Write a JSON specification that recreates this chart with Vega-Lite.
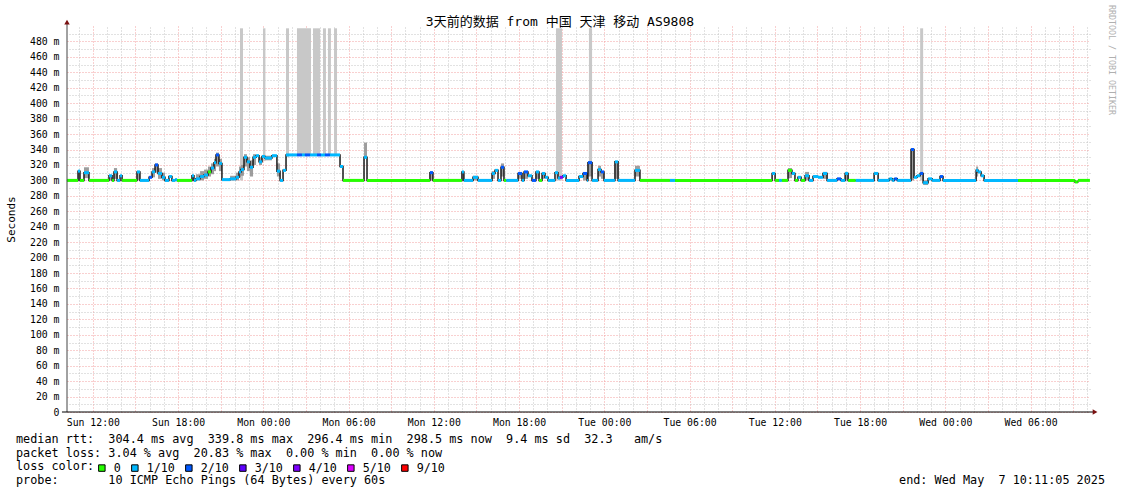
{
  "$schema": "https://vega.github.io/schema/vega-lite/v6.json",
  "width": 1023,
  "height": 386,
  "autosize": "none",
  "padding": {"left": 67, "top": 26, "right": 31, "bottom": 82},
  "background": "white",
  "config": {"view": {"stroke": null}, "font": "DejaVu Sans Mono"},
  "datasets": {
    "med": [
      {"t":10.18,"t2":10.96,"med":300,"loss":"0"},
      {"t":10.96,"t2":11.10,"med":312,"loss":"1/10","lo":300,"hi":312},
      {"t":11.10,"t2":11.38,"med":300,"loss":"0"},
      {"t":11.38,"t2":11.73,"med":310,"loss":"1/10","lo":303,"hi":317},
      {"t":11.73,"t2":13.14,"med":300,"loss":"0"},
      {"t":13.14,"t2":13.36,"med":306,"loss":"1/10","lo":300,"hi":307},
      {"t":13.36,"t2":13.49,"med":300,"loss":"0"},
      {"t":13.49,"t2":13.71,"med":311,"loss":"1/10","lo":302,"hi":316},
      {"t":13.71,"t2":13.92,"med":300,"loss":"1/10"},
      {"t":13.92,"t2":14.06,"med":306,"loss":"1/10"},
      {"t":14.06,"t2":15.11,"med":300,"loss":"0"},
      {"t":15.11,"t2":15.32,"med":311,"loss":"1/10","lo":300,"hi":311},
      {"t":15.32,"t2":15.96,"med":300,"loss":"1/10"},
      {"t":15.96,"t2":16.17,"med":304,"loss":"2/10"},
      {"t":16.17,"t2":16.38,"med":311,"loss":"1/10","lo":304,"hi":316},
      {"t":16.38,"t2":16.59,"med":320,"loss":"2/10","lo":310,"hi":322},
      {"t":16.59,"t2":16.87,"med":309,"loss":"1/10","lo":302,"hi":316},
      {"t":16.87,"t2":17.08,"med":304,"loss":"1/10","lo":300,"hi":310},
      {"t":17.08,"t2":17.36,"med":300,"loss":"1/10"},
      {"t":17.36,"t2":17.57,"med":305,"loss":"1/10"},
      {"t":17.57,"t2":17.79,"med":300,"loss":"1/10"},
      {"t":17.79,"t2":17.93,"med":301,"loss":"1/10"},
      {"t":17.93,"t2":18.98,"med":300,"loss":"0"},
      {"t":18.98,"t2":19.12,"med":306,"loss":"1/10","lo":300,"hi":307},
      {"t":19.12,"t2":19.26,"med":300,"loss":"1/10"},
      {"t":19.26,"t2":19.55,"med":302,"loss":"1/10","lo":300,"hi":308},
      {"t":19.55,"t2":19.83,"med":305,"loss":"1/10","lo":300,"hi":312},
      {"t":19.83,"t2":20.11,"med":307,"loss":"1/10","lo":302,"hi":314},
      {"t":20.11,"t2":20.32,"med":311,"loss":"0","lo":305,"hi":318},
      {"t":20.32,"t2":20.53,"med":316,"loss":"1/10","lo":308,"hi":322},
      {"t":20.53,"t2":20.67,"med":323,"loss":"1/10","lo":312,"hi":328},
      {"t":20.67,"t2":20.88,"med":333,"loss":"2/10","lo":318,"hi":336},
      {"t":20.88,"t2":21.09,"med":322,"loss":"1/10","lo":312,"hi":328},
      {"t":21.09,"t2":21.66,"med":301,"loss":"1/10"},
      {"t":21.66,"t2":22.08,"med":302,"loss":"1/10","lo":300,"hi":306},
      {"t":22.08,"t2":22.29,"med":304,"loss":"1/10","lo":300,"hi":310},
      {"t":22.29,"t2":22.43,"med":311,"loss":"1/10","lo":304,"hi":318},
      {"t":22.43,"t2":22.64,"med":314,"loss":"1/10","lo":306,"hi":320},
      {"t":22.64,"t2":22.85,"med":330,"loss":"1/10","lo":318,"hi":334},
      {"t":22.85,"t2":23.06,"med":324,"loss":"1/10","lo":312,"hi":330},
      {"t":23.06,"t2":23.28,"med":317,"loss":"1/10","lo":305,"hi":326},
      {"t":23.28,"t2":23.49,"med":330,"loss":"1/10","lo":320,"hi":334},
      {"t":23.49,"t2":23.70,"med":332,"loss":"1/10"},
      {"t":23.70,"t2":23.91,"med":324,"loss":"1/10","lo":320,"hi":330},
      {"t":23.91,"t2":24.12,"med":331,"loss":"1/10"},
      {"t":24.12,"t2":24.61,"med":329,"loss":"1/10","lo":326,"hi":332},
      {"t":24.61,"t2":24.96,"med":332,"loss":"1/10"},
      {"t":24.96,"t2":25.18,"med":312,"loss":"1/10","lo":305,"hi":322},
      {"t":25.18,"t2":25.39,"med":300,"loss":"1/10"},
      {"t":25.39,"t2":25.60,"med":313,"loss":"1/10"},
      {"t":25.60,"t2":26.37,"med":333,"loss":"1/10"},
      {"t":26.37,"t2":26.72,"med":333,"loss":"2/10"},
      {"t":26.72,"t2":26.93,"med":333,"loss":"1/10"},
      {"t":26.93,"t2":27.29,"med":333,"loss":"2/10"},
      {"t":27.29,"t2":27.78,"med":333,"loss":"1/10"},
      {"t":27.78,"t2":28.06,"med":333,"loss":"2/10"},
      {"t":28.06,"t2":28.34,"med":333,"loss":"1/10"},
      {"t":28.34,"t2":28.69,"med":333,"loss":"2/10"},
      {"t":28.69,"t2":29.40,"med":333,"loss":"1/10"},
      {"t":29.40,"t2":29.61,"med":318,"loss":"1/10"},
      {"t":29.61,"t2":31.09,"med":300,"loss":"0"},
      {"t":31.09,"t2":31.30,"med":330,"loss":"1/10","lo":328,"hi":349},
      {"t":31.30,"t2":35.73,"med":300,"loss":"0"},
      {"t":35.73,"t2":35.94,"med":310,"loss":"2/10","lo":300,"hi":312},
      {"t":35.94,"t2":37.98,"med":300,"loss":"0"},
      {"t":37.98,"t2":38.12,"med":311,"loss":"1/10","lo":300,"hi":311},
      {"t":38.12,"t2":38.76,"med":300,"loss":"1/10"},
      {"t":38.76,"t2":39.11,"med":304,"loss":"1/10","lo":300,"hi":306},
      {"t":39.11,"t2":40.10,"med":300,"loss":"1/10"},
      {"t":40.10,"t2":40.31,"med":309,"loss":"1/10","lo":302,"hi":312},
      {"t":40.31,"t2":40.52,"med":313,"loss":"1/10"},
      {"t":40.52,"t2":40.73,"med":300,"loss":"1/10"},
      {"t":40.73,"t2":40.94,"med":317,"loss":"2/10","lo":305,"hi":322},
      {"t":40.94,"t2":41.10,"med":300,"loss":"0"},
      {"t":41.10,"t2":41.93,"med":300,"loss":"1/10"},
      {"t":41.93,"t2":42.21,"med":309,"loss":"2/10","lo":302,"hi":309},
      {"t":42.21,"t2":42.35,"med":300,"loss":"1/10"},
      {"t":42.35,"t2":42.63,"med":311,"loss":"2/10","lo":302,"hi":311},
      {"t":42.63,"t2":42.91,"med":306,"loss":"1/10"},
      {"t":42.91,"t2":43.19,"med":300,"loss":"2/10"},
      {"t":43.19,"t2":43.41,"med":311,"loss":"1/10","lo":302,"hi":311},
      {"t":43.41,"t2":43.62,"med":300,"loss":"0"},
      {"t":43.62,"t2":43.83,"med":309,"loss":"1/10","lo":302,"hi":309},
      {"t":43.83,"t2":44.04,"med":304,"loss":"1/10"},
      {"t":44.04,"t2":44.53,"med":300,"loss":"1/10"},
      {"t":44.53,"t2":44.74,"med":310,"loss":"1/10"},
      {"t":44.74,"t2":44.88,"med":303,"loss":"1/10"},
      {"t":44.88,"t2":45.09,"med":304,"loss":"4/10"},
      {"t":45.09,"t2":45.31,"med":306,"loss":"1/10"},
      {"t":45.31,"t2":46.22,"med":300,"loss":"1/10"},
      {"t":46.22,"t2":46.50,"med":305,"loss":"1/10"},
      {"t":46.50,"t2":46.79,"med":309,"loss":"2/10","lo":300,"hi":309},
      {"t":46.79,"t2":46.85,"med":300,"loss":"1/10"},
      {"t":46.85,"t2":47.14,"med":323,"loss":"2/10","lo":305,"hi":325},
      {"t":47.14,"t2":47.56,"med":300,"loss":"1/10"},
      {"t":47.56,"t2":47.77,"med":314,"loss":"1/10","lo":305,"hi":319},
      {"t":47.77,"t2":47.98,"med":311,"loss":"2/10","lo":302,"hi":311},
      {"t":47.98,"t2":48.75,"med":300,"loss":"1/10"},
      {"t":48.75,"t2":48.97,"med":324,"loss":"1/10","lo":302,"hi":325},
      {"t":48.97,"t2":50.16,"med":300,"loss":"1/10"},
      {"t":50.16,"t2":50.51,"med":313,"loss":"1/10","lo":305,"hi":319},
      {"t":50.51,"t2":52.62,"med":300,"loss":"0"},
      {"t":52.62,"t2":52.98,"med":300,"loss":"1/10"},
      {"t":52.98,"t2":59.81,"med":300,"loss":"0"},
      {"t":59.81,"t2":60.02,"med":309,"loss":"1/10"},
      {"t":60.02,"t2":60.30,"med":300,"loss":"0"},
      {"t":60.30,"t2":60.50,"med":300,"loss":"1/10"},
      {"t":60.50,"t2":60.93,"med":300,"loss":"0"},
      {"t":60.93,"t2":61.21,"med":313,"loss":"0","lo":303,"hi":316},
      {"t":61.21,"t2":61.42,"med":309,"loss":"1/10"},
      {"t":61.42,"t2":61.63,"med":300,"loss":"0"},
      {"t":61.63,"t2":61.85,"med":304,"loss":"1/10"},
      {"t":61.85,"t2":62.13,"med":300,"loss":"0"},
      {"t":62.13,"t2":62.41,"med":306,"loss":"1/10","lo":300,"hi":311},
      {"t":62.41,"t2":62.69,"med":300,"loss":"1/10"},
      {"t":62.69,"t2":63.04,"med":305,"loss":"1/10"},
      {"t":63.04,"t2":63.39,"med":304,"loss":"1/10"},
      {"t":63.39,"t2":63.68,"med":309,"loss":"1/10","lo":302,"hi":311},
      {"t":63.68,"t2":64.38,"med":300,"loss":"1/10"},
      {"t":64.38,"t2":64.66,"med":302,"loss":"2/10"},
      {"t":64.66,"t2":64.95,"med":300,"loss":"1/10"},
      {"t":64.95,"t2":65.16,"med":309,"loss":"1/10","lo":300,"hi":311},
      {"t":65.16,"t2":65.70,"med":300,"loss":"0"},
      {"t":65.70,"t2":66.99,"med":300,"loss":"1/10"},
      {"t":66.99,"t2":67.27,"med":309,"loss":"1/10"},
      {"t":67.27,"t2":68.06,"med":300,"loss":"1/10"},
      {"t":68.06,"t2":68.27,"med":302,"loss":"1/10"},
      {"t":68.27,"t2":68.41,"med":300,"loss":"1/10"},
      {"t":68.41,"t2":68.62,"med":302,"loss":"2/10"},
      {"t":68.62,"t2":69.59,"med":300,"loss":"1/10"},
      {"t":69.59,"t2":69.80,"med":340,"loss":"2/10","lo":300,"hi":341},
      {"t":69.80,"t2":70.01,"med":304,"loss":"1/10"},
      {"t":70.01,"t2":70.23,"med":306,"loss":"1/10"},
      {"t":70.23,"t2":70.44,"med":309,"loss":"2/10"},
      {"t":70.44,"t2":70.79,"med":297,"loss":"1/10","lo":294,"hi":300},
      {"t":70.79,"t2":71.07,"med":302,"loss":"1/10"},
      {"t":71.07,"t2":71.63,"med":300,"loss":"1/10"},
      {"t":71.63,"t2":71.84,"med":305,"loss":"2/10"},
      {"t":71.84,"t2":74.17,"med":300,"loss":"1/10"},
      {"t":74.17,"t2":74.31,"med":313,"loss":"1/10","lo":305,"hi":318},
      {"t":74.31,"t2":74.52,"med":311,"loss":"1/10"},
      {"t":74.52,"t2":74.73,"med":306,"loss":"1/10"},
      {"t":74.73,"t2":77.12,"med":300,"loss":"1/10"},
      {"t":77.12,"t2":81.12,"med":300,"loss":"0"},
      {"t":81.12,"t2":81.33,"med":298,"loss":"0"},
      {"t":81.33,"t2":82.18,"med":300,"loss":"0"}
    ],
    "lossbars": [
      {"t":22.36,"t2":22.57,"lo":300},
      {"t":23.98,"t2":24.15,"lo":325},
      {"t":25.60,"t2":25.81,"lo":330},
      {"t":26.37,"t2":27.36,"lo":333},
      {"t":27.50,"t2":28.00,"lo":333},
      {"t":28.20,"t2":28.41,"lo":333},
      {"t":28.55,"t2":28.76,"lo":333},
      {"t":28.98,"t2":29.19,"lo":333},
      {"t":44.60,"t2":45.02,"lo":300},
      {"t":46.92,"t2":47.14,"lo":320},
      {"t":70.23,"t2":70.44,"lo":300}
    ]
  },
  "resolve": {"axis": {"x": "independent", "y": "independent"}},
  "layer": [
    {
      "data": {"name": "lossbars"},
      "mark": {"type": "rect", "color": "#c8c8c8"},
      "encoding": {
        "x": {"field": "t", "type": "quantitative", "scale": {"domain": [10.1847, 82.1847], "nice": false, "zero": false},
              "axis": {"orient": "top", "values": [11,13,14,16,17,19,20,22,23,25,26,28,29,31,32,34,35,37,38,40,41,43,44,46,47,49,50,52,53,55,56,58,59,61,62,64,65,67,68,70,71,73,74,76,77,79,80,82],
                       "grid": true, "gridColor": "#c4c4c4", "gridDash": [1, 2], "gridWidth": 1, "labels": false, "ticks": false, "domain": false, "title": null}},
        "x2": {"field": "t2"},
        "y": {"field": "lo", "type": "quantitative", "scale": {"domain": [0, 500], "nice": false, "zero": true},
              "axis": {"orient": "right", "values": [10,30,50,70,90,110,130,150,170,190,210,230,250,270,290,310,330,350,370,390,410,430,450,470,490],
                       "grid": true, "gridColor": "#c4c4c4", "gridDash": [1, 2], "gridWidth": 1, "labels": false, "ticks": false, "domain": false, "title": null}},
        "y2": {"datum": 497}
      }
    },
    {
      "data": {"name": "med"},
      "transform": [{"filter": "isValid(datum.hi)"}],
      "mark": {"type": "rect", "color": "#8c8c8c", "opacity": 0.85},
      "encoding": {
        "x": {"field": "t", "type": "quantitative",
              "axis": {"orient": "bottom", "values": [12,15,18,21,24,27,30,33,36,39,42,45,48,51,54,57,60,63,66,69,72,75,78,81],
                       "labelExpr": "datum.value % 6 == 0 ? ['Sun','Mon','Tue','Wed'][floor(datum.value/24)] + ' ' + (datum.value % 24 < 10 ? '0' : '') + (datum.value % 24) + ':00' : ''",
                       "grid": true, "gridColor": "#f2a0a0", "gridDash": [1, 2], "gridWidth": 1, "ticks": false, "domain": false, "title": null,
                       "labelFont": "DejaVu Sans Mono", "labelFontSize": 9.8, "labelColor": "#000", "labelPadding": 5, "labelFlush": false, "labelOverlap": false}},
        "x2": {"field": "t2"},
        "y": {"field": "lo", "type": "quantitative",
              "axis": {"orient": "left", "values": [0,20,40,60,80,100,120,140,160,180,200,220,240,260,280,300,320,340,360,380,400,420,440,460,480],
                       "labelExpr": "datum.value == 0 ? '0\u00a0\u00a0' : datum.value + ' m'",
                       "grid": true, "gridColor": "#f2a0a0", "gridDash": [1, 2], "gridWidth": 1, "ticks": false, "domain": false,
                       "title": "Seconds", "titleFont": "DejaVu Sans Mono", "titleFontSize": 11, "titleFontWeight": "normal", "titleColor": "#000", "titlePadding": 13,
                       "labelFont": "DejaVu Sans Mono", "labelFontSize": 9.8, "labelColor": "#000", "labelPadding": 8, "labelOverlap": false}},
        "y2": {"field": "hi"}
      }
    },
    {
      "data": {"name": "med"},
      "mark": {"type": "line", "interpolate": "step-after", "color": "#1a1a1a", "strokeWidth": 1.5},
      "encoding": {
        "x": {"field": "t", "type": "quantitative", "axis": null},
        "y": {"field": "med", "type": "quantitative", "axis": null}
      }
    },
    {
      "data": {"name": "med"},
      "mark": {"type": "rect", "yOffset": -1.5, "y2Offset": 1.5},
      "encoding": {
        "x": {"field": "t", "type": "quantitative", "axis": null},
        "x2": {"field": "t2"},
        "y": {"field": "med", "type": "quantitative", "axis": null},
        "y2": {"field": "med"},
        "color": {"field": "loss", "type": "nominal",
                  "scale": {"domain": ["0","1/10","2/10","3/10","4/10","5/10","9/10"], "range": ["#26ff00","#00b8ff","#0059ff","#5e00ff","#7e00ff","#dd00ff","#ff0000"]},
                  "legend": {"orient": "none", "legendX": 29, "legendY": 436, "direction": "horizontal", "title": null,
                             "symbolType": "square", "symbolSize": 42, "symbolOpacity": 1, "symbolStrokeColor": "#000", "symbolStrokeWidth": 1,
                             "labelFont": "DejaVu Sans Mono", "labelFontSize": 11.7, "labelColor": "#000", "labelOffset": 6, "columnPadding": 8,
                             "encode": {"symbols": {"update": {"stroke": {"value": "#000"}, "strokeWidth": {"value": 1}}}}}}
      }
    },
    {
      "data": {"values": [{}]},
      "mark": {"type": "rule", "color": "#444", "strokeWidth": 1},
      "encoding": {
        "x": {"datum": 10.1847, "axis": null},
        "y": {"datum": 0, "axis": null},
        "y2": {"datum": 505}
      }
    },
    {
      "data": {"values": [{}]},
      "mark": {"type": "rule", "color": "#000", "strokeWidth": 1},
      "encoding": {
        "x": {"datum": 9.83, "axis": null},
        "x2": {"datum": 82.5},
        "y": {"datum": 0, "axis": null}
      }
    },
    {
      "data": {"values": [{}]},
      "mark": {"type": "point", "shape": "triangle-up", "filled": true, "color": "#7a1010", "size": 30, "opacity": 1},
      "encoding": {
        "x": {"datum": 10.1847, "axis": null},
        "y": {"datum": 505, "axis": null}
      }
    },
    {
      "data": {"values": [{}]},
      "mark": {"type": "point", "shape": "triangle-right", "filled": true, "color": "#7a1010", "size": 30, "opacity": 1},
      "encoding": {
        "x": {"datum": 82.54, "axis": null},
        "y": {"datum": 0, "axis": null}
      }
    },
    {
      "data": {"values": [{"label": "3天前的数据 from 中国 天津 移动 AS9808"}]},
      "mark": {"type": "text", "align": "center", "baseline": "middle", "font": "DejaVu Sans Mono, Noto Sans CJK SC", "fontSize": 13, "color": "#000"},
      "encoding": {"x": {"datum": 44.88, "axis": null}, "y": {"datum": 505.5, "axis": null}, "text": {"field": "label"}}
    },
    {
      "data": {"values": [{"label": "median rtt:\u00a0\u00a0304.4 ms avg\u00a0\u00a0339.8 ms max\u00a0\u00a0296.4 ms min\u00a0\u00a0298.5 ms now\u00a0\u00a09.4 ms sd\u00a0\u00a032.3\u00a0\u00a0\u00a0am/s"}]},
      "mark": {"type": "text", "align": "left", "baseline": "middle", "font": "DejaVu Sans Mono", "fontSize": 11.8, "color": "#000"},
      "encoding": {"x": {"datum": 6.595, "axis": null}, "y": {"datum": -34.5, "axis": null}, "text": {"field": "label"}}
    },
    {
      "data": {"values": [{"label": "packet loss: 3.04 % avg\u00a0\u00a020.83 % max\u00a0\u00a00.00 % min\u00a0\u00a00.00 % now"}]},
      "mark": {"type": "text", "align": "left", "baseline": "middle", "font": "DejaVu Sans Mono", "fontSize": 11.8, "color": "#000"},
      "encoding": {"x": {"datum": 6.595, "axis": null}, "y": {"datum": -52.5, "axis": null}, "text": {"field": "label"}}
    },
    {
      "data": {"values": [{"label": "loss color:"}]},
      "mark": {"type": "text", "align": "left", "baseline": "middle", "font": "DejaVu Sans Mono", "fontSize": 11.8, "color": "#000"},
      "encoding": {"x": {"datum": 6.595, "axis": null}, "y": {"datum": -70.5, "axis": null}, "text": {"field": "label"}}
    },
    {
      "data": {"values": [{"label": "probe:\u00a0\u00a0\u00a0\u00a0\u00a0\u00a0\u00a010 ICMP Echo Pings (64 Bytes) every 60s"}]},
      "mark": {"type": "text", "align": "left", "baseline": "middle", "font": "DejaVu Sans Mono", "fontSize": 11.8, "color": "#000"},
      "encoding": {"x": {"datum": 6.595, "axis": null}, "y": {"datum": -88.5, "axis": null}, "text": {"field": "label"}}
    },
    {
      "data": {"values": [{"label": "end: Wed May\u00a0\u00a07 10:11:05 2025"}]},
      "mark": {"type": "text", "align": "right", "baseline": "middle", "font": "DejaVu Sans Mono", "fontSize": 11.8, "color": "#000"},
      "encoding": {"x": {"datum": 83.24, "axis": null}, "y": {"datum": -88.5, "axis": null}, "text": {"field": "label"}}
    },
    {
      "data": {"values": [{"label": "RRDTOOL / TOBI OETIKER"}]},
      "mark": {"type": "text", "align": "center", "baseline": "middle", "angle": 90, "font": "DejaVu Sans Mono", "fontSize": 8.3, "color": "#b0b0b0"},
      "encoding": {"x": {"datum": 83.66, "axis": null}, "y": {"datum": 456, "axis": null}, "text": {"field": "label"}}
    }
  ]
}
